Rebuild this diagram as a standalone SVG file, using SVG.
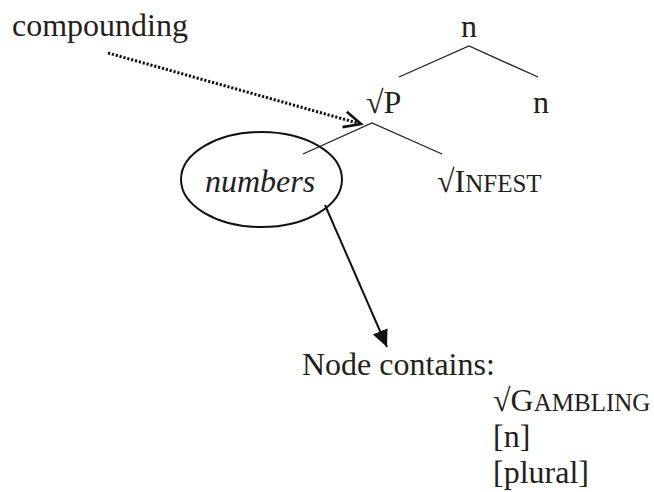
<svg xmlns="http://www.w3.org/2000/svg" width="654" height="492" viewBox="0 0 654 492">
<style>
text { font-family: "Liberation Serif", "Times New Roman", serif; font-size: 32px; fill: #231f20; }
.sc { font-size: 25px; }
.it { font-style: italic; }
.edge { stroke: #231f20; stroke-width: 1.3; fill: none; }
.dot { stroke: #111; stroke-width: 3; stroke-dasharray: 2.2 1.8; fill: none; }
.arr { stroke: #111; stroke-width: 2; fill: none; }
</style>
<defs>
<marker id="open" markerUnits="userSpaceOnUse" markerWidth="24" markerHeight="20" refX="18" refY="10" orient="auto">
<path d="M1,2 L18,10 L1,18" fill="none" stroke="#111" stroke-width="2.6"/>
</marker>
<marker id="filled" markerUnits="userSpaceOnUse" markerWidth="22" markerHeight="20" refX="17" refY="10" orient="auto">
<path d="M0,2 L17,10 L0,18 Z" fill="#111"/>
</marker>
</defs>
<g id="connectors">
<path class="edge" d="M399,77 L469,46 L538,77"/>
<path class="edge" d="M303,154 L372,123 L442,154"/>
<path class="dot" d="M108,53 L361,124" marker-end="url(#open)"/>
<path class="arr" d="M325,205 L387,347" marker-end="url(#filled)"/>
</g>
<g id="compounding"><text x="12" y="36">compounding</text></g>
<g id="n-top"><text x="469" y="37" text-anchor="middle">n</text></g>
<g id="rootP"><text x="366" y="113">√P</text></g>
<g id="n-right"><text x="541" y="113" text-anchor="middle">n</text></g>
<g id="numbers">
<ellipse cx="261.5" cy="179.5" rx="80.5" ry="47.5" fill="none" stroke="#111" stroke-width="2"/>
<text class="it" x="205" y="192">numbers</text>
</g>
<g id="infest"><text x="437" y="192">√I<tspan class="sc">NFEST</tspan></text></g>
<g id="contents">
<text x="302" y="375">Node contains:</text>
<text x="493" y="411">√G<tspan class="sc">AMBLING</tspan></text>
<text x="493" y="447">[n]</text>
<text x="493" y="483">[plural]</text>
</g>
</svg>
